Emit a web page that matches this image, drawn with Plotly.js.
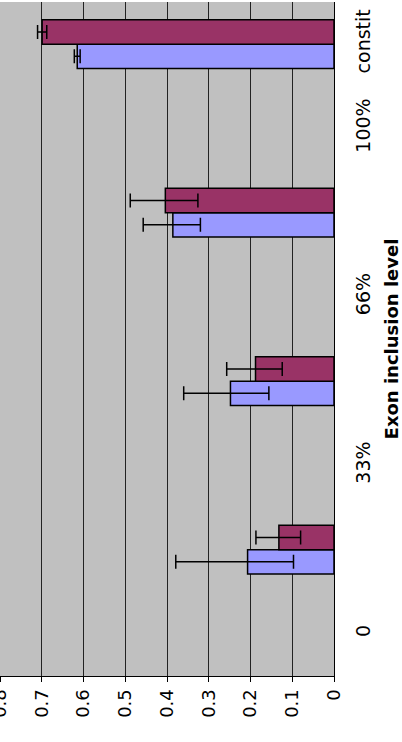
<!DOCTYPE html>
<html>
<head>
<meta charset="utf-8">
<script src="https://cdn.plot.ly/plotly-3.0.1.min.js"></script>
<style>
  html, body { margin: 0; padding: 0; background: #ffffff; }
  #chart { width: 402px; height: 742px; }
</style>
</head>
<body>
<div id="chart"></div>
<script>
// Exon inclusion bins (one group of two bars per bin)
const bins = ["0–33%", "33–66%", "66–100%", "constit"];

// Boundary labels along the category axis
const binTickText = ["0", "33%", "66%", "100%", "constit"];

// First series (lavender)
const seriesA = [0.207, 0.248, 0.386, 0.615];
const seriesAErrPlus = [0.172, 0.112, 0.071, 0.007];
const seriesAErrMinus = [0.110, 0.092, 0.066, 0.007];

// Second series (plum)
const seriesB = [0.132, 0.188, 0.404, 0.699];
const seriesBErrPlus = [0.055, 0.069, 0.084, 0.011];
const seriesBErrMinus = [0.052, 0.064, 0.078, 0.011];

const fontFamily = "DejaVu Sans, Verdana, sans-serif";

function barTrace(values, plus, minus, fill) {
  return {
    type: "bar",
    orientation: "h",
    y: bins,
    x: values,
    marker: { color: fill, line: { color: "#000000", width: 1.5 } },
    error_x: {
      type: "data",
      symmetric: false,
      array: plus,
      arrayminus: minus,
      color: "#000000",
      thickness: 1.5,
      width: 7
    },
    hoverinfo: "x+y"
  };
}

const data = [
  barTrace(seriesA, seriesAErrPlus, seriesAErrMinus, "#9999FF"),
  barTrace(seriesB, seriesBErrPlus, seriesBErrMinus, "#993366")
];

const layout = {
  width: 402,
  height: 742,
  margin: { l: 0, r: 68, t: 2, b: 66 },
  paper_bgcolor: "#ffffff",
  plot_bgcolor: "#C0C0C0",
  showlegend: false,
  barmode: "group",
  bargap: 0.71,
  bargroupgap: 0,
  font: { family: fontFamily, size: 17, color: "#000000" },
  xaxis: {
    range: [0.8, 0],
    side: "bottom",
    tickmode: "linear",
    tick0: 0,
    dtick: 0.1,
    tickangle: -90,
    ticks: "outside",
    ticklen: 5,
    tickwidth: 1,
    tickcolor: "#000000",
    ticklabelstandoff: 0,
    ticklabeloverflow: "allow",
    showline: true,
    linecolor: "#000000",
    linewidth: 1,
    showgrid: true,
    gridcolor: "#222222",
    gridwidth: 1,
    zeroline: false,
    tickfont: { family: fontFamily, size: 18, color: "#000000" }
  },
  yaxis: {
    type: "category",
    categoryorder: "array",
    categoryarray: bins,
    range: [-0.75, 3.25],
    side: "right",
    tickmode: "array",
    tickvals: [-0.5, 0.5, 1.5, 2.5, 3],
    ticktext: binTickText,
    tickangle: -90,
    ticks: "",
    ticklabelstandoff: 12,
    showline: true,
    linecolor: "#000000",
    linewidth: 1,
    showgrid: false,
    zeroline: false,
    tickfont: { family: fontFamily, size: 19, color: "#000000" },
    title: {
      text: "Exon inclusion level",
      font: { family: fontFamily, size: 18, color: "#000000", weight: "bold" },
      standoff: 12
    }
  }
};

Plotly.newPlot("chart", data, layout, { staticPlot: true, displayModeBar: false });
</script>
</body>
</html>
